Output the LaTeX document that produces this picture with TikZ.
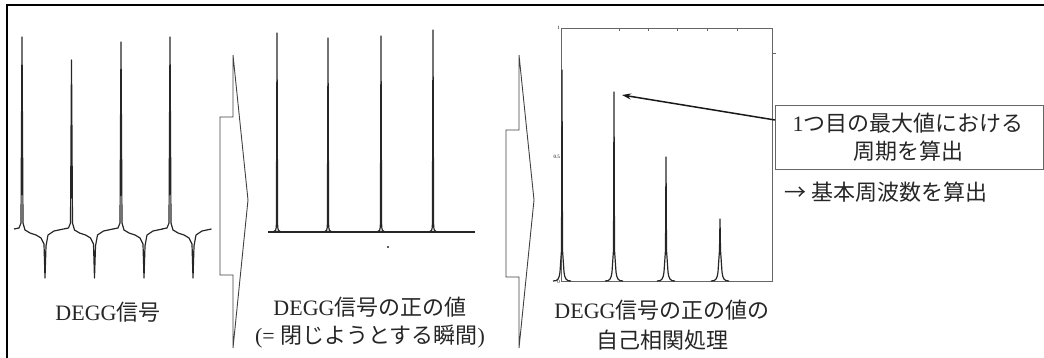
\documentclass[tikz,border=0pt]{standalone}
\usepackage{fontspec}
\setmainfont{Liberation Serif}
\newfontfamily\jp{Noto Sans CJK JP}
\usetikzlibrary{arrows.meta}
\tikzset{
  sig/.style={draw=black!85, line width=1.2pt, line join=round},
  sigthin/.style={draw=black!85, line width=1.1pt, line join=round},
  blockarrow/.style={draw=black!75, line width=0.9pt, line join=miter},
  frame/.style={draw=black!60, line width=0.8pt},
  lbl/.style={font=\fontsize{22}{28}\selectfont, text=black!85, align=center, inner sep=0pt},
  tiny/.style={font=\fontsize{5}{5}\selectfont, inner sep=0pt}
}
\begin{document}
\begin{tikzpicture}[x=1pt,y=-1pt]
\useasboundingbox (0,0) rectangle (1044,358);
\clip (0,0) rectangle (1044,358);
% outer frame (cropped at right and bottom)
\draw[black, line width=1.6pt] (7,380) -- (7,5) -- (1060,5);

% ---- chart 1 : DEGG signal
\foreach \s/\t in {22/37,71.5/60,121/42,170/37} {
  \draw[sig] (\s-8,229) -- (\s-3,228) -- (\s-1,223) -- (\s,\t) -- (\s+1,223)
     -- (\s+3,230) -- (\s+8,233) -- (\s+14,235) -- (\s+19,238) -- (\s+22,244)
     -- (\s+23,278) -- (\s+24,246) -- (\s+26,235) -- (\s+32,231) -- (\s+41.5,229);
}
\node[lbl] (t1) at (108,312) {DEGG{\jp 信号}};

% ---- block arrow 1
\draw[blockarrow] (220,117) -- (233,117) -- (233,55) -- (248,200) -- (233,348)
   -- (233,275) -- (220,275) -- cycle;

% ---- chart 2 : positive values
\draw[sigthin] (268,232) -- (475,232);
\foreach \s/\t in {277/33,328/38,381/36,433/30} {
  \draw[sig] (\s-4,232) .. controls (\s-1,231) .. (\s-0.6,224) -- (\s,\t)
     -- (\s+0.6,224) .. controls (\s+1,231) .. (\s+4,232);
}
\fill[black!85] (388,247) circle (1.2);
\node[lbl] (t2) at (370,323) {DEGG{\jp 信号の正の値}\\(= {\jp 閉じようとする瞬間})};

% ---- block arrow 2
\draw[blockarrow] (506,130) -- (519,130) -- (519,55) -- (534,200) -- (519,348)
   -- (519,277) -- (506,277) -- cycle;

% ---- chart 3 : autocorrelation
\draw[frame] (561,28) rectangle (772,281);
\foreach \x in {619,648,677,707,737} \draw[frame] (\x,28) -- (\x,31);
\draw[frame] (772,53) -- (776,53);
\node[tiny, anchor=east] (y1) at (560,28) {1};
\node[tiny, anchor=east] (y05) at (560,157) {0.5};
\node[tiny, anchor=east] (y0) at (560,282) {0};
\foreach \p/\t in {562/70,614/92,666/157,720/219} {
  \draw[sig] (\p-9,281) .. controls (\p-4,281) and (\p-3,279) .. (\p-2,272)
     -- (\p-0.5,250) -- (\p,\t) -- (\p+0.5,250) -- (\p+2,272)
     .. controls (\p+3,279) and (\p+4,281) .. (\p+9,281);
}
\coordinate (peak) at (622,95);
\node[lbl] (t3) at (662,325) {DEGG{\jp 信号の正の値の}\\[2pt]{\jp 自己相関処理}};

% ---- annotation
\node[draw=black!60, line width=0.8pt, minimum width=268pt, minimum height=64pt,
      anchor=north west, inner sep=0pt] (box) at (775,105) {};
\node[lbl] (boxtxt) at (908,137) {1{\jp つ目の最大値における}\\{\jp 周期を算出}};
\coordinate (a0) at (775,120);
\draw[black!90, line width=1.5pt, -{Stealth[length=9pt,width=6pt]}] (a0) -- (peak);
\node[lbl, anchor=west] (freq) at (784,192) {{\jp → 基本周波数を算出}};
\end{tikzpicture}
\end{document}
